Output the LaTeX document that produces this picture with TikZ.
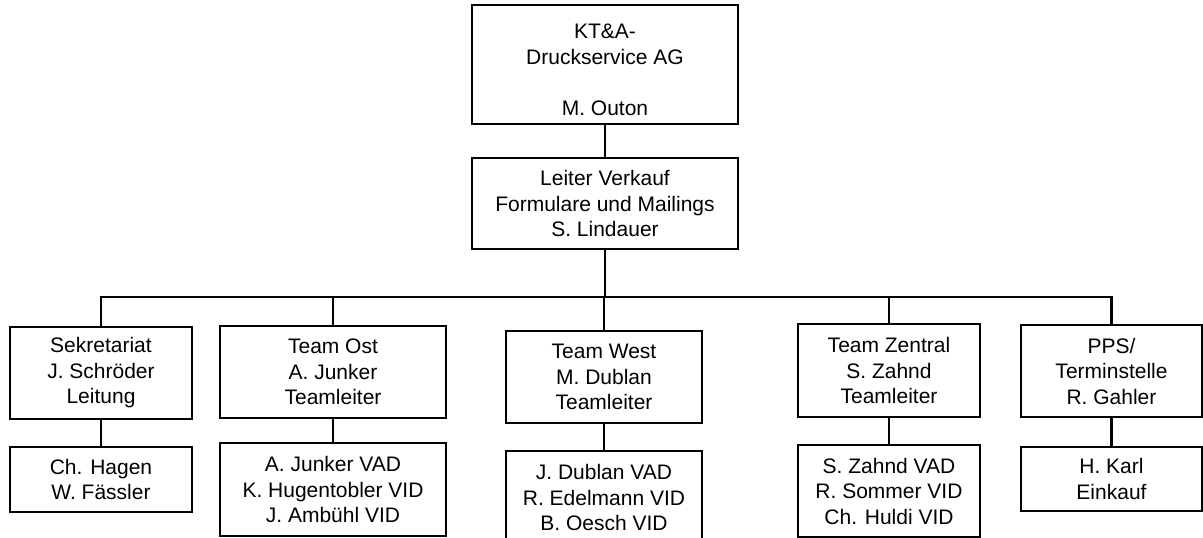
\documentclass[tikz,border=0pt]{standalone}
\usepackage{fontspec}
\setmainfont{Liberation Sans}
\begin{document}
\begin{tikzpicture}[x=1pt,y=-1pt,
  box/.style={draw=black,line width=1.5pt,fill=white,align=center,inner sep=0pt,
    font=\fontsize{21}{25.5}\selectfont},
  conn/.style={line width=2.6pt,line cap=rect}]
\useasboundingbox (0,0) rectangle (1203,538);
\clip (0,0) rectangle (1203,538);
% nodes
\node[box,minimum width=266pt,minimum height=119pt] (top) at (605,64.5) {\rule{0pt}{25pt}KT\&A-\\Druckservice AG\\[25.5pt]M. Outon};
\node[box,minimum width=266pt,minimum height=91pt] (lv) at (605,203.5) {Leiter Verkauf\\Formulare und Mailings\\S. Lindauer};
\coordinate (barL) at (101,297);
\coordinate (barR) at (1111.5,297);
\node[box,minimum width=182pt,minimum height=92pt] (sek) at (101,373) {Sekretariat\\J. Schröder\\Leitung};
\node[box,minimum width=182pt,minimum height=65pt] (sekS) at (101,479.5) {Ch. Hagen\\W. Fässler};
\node[box,minimum width=226pt,minimum height=92pt] (ost) at (333,372) {Team Ost\\A. Junker\\Teamleiter};
\node[box,minimum width=226pt,minimum height=93pt] (ostS) at (333,489.5) {A. Junker VAD\\K. Hugentobler VID\\J. Ambühl VID};
\node[box,minimum width=196pt,minimum height=92pt] (west) at (604,377) {Team West\\M. Dublan\\Teamleiter};
\node[box,minimum width=196pt,minimum height=94pt,anchor=north] (westS) at (604,450) {J. Dublan VAD\\R. Edelmann VID\\B. Oesch VID};
\node[box,minimum width=182pt,minimum height=93pt] (zen) at (889,370.5) {Team Zentral\\S. Zahnd\\Teamleiter};
\node[box,minimum width=182pt,minimum height=92pt] (zenS) at (889,491) {S. Zahnd VAD\\R. Sommer VID\\Ch. Huldi VID};
\node[box,minimum width=181pt,minimum height=92pt] (pps) at (1111.5,371) {PPS/\\Terminstelle\\R. Gahler};
\node[box,minimum width=181pt,minimum height=64pt] (ppsS) at (1111.5,479) {H. Karl\\Einkauf};
% connectors
\draw[conn] (top.south) -- (lv.north);
\draw[conn] (lv.south) -- (lv.south |- barL);
\draw[conn] (barL) -- (barR);
\foreach \n in {sek,ost,west,zen,pps}{
  \draw[conn] (\n.north) -- (\n.north |- barL);
}
\draw[conn] (sek.south) -- (sekS.north);
\draw[conn] (ost.south) -- (ostS.north);
\draw[conn] (west.south) -- (westS.north);
\draw[conn] (zen.south) -- (zenS.north);
\draw[conn] (pps.south) -- (ppsS.north);
\end{tikzpicture}
\end{document}
